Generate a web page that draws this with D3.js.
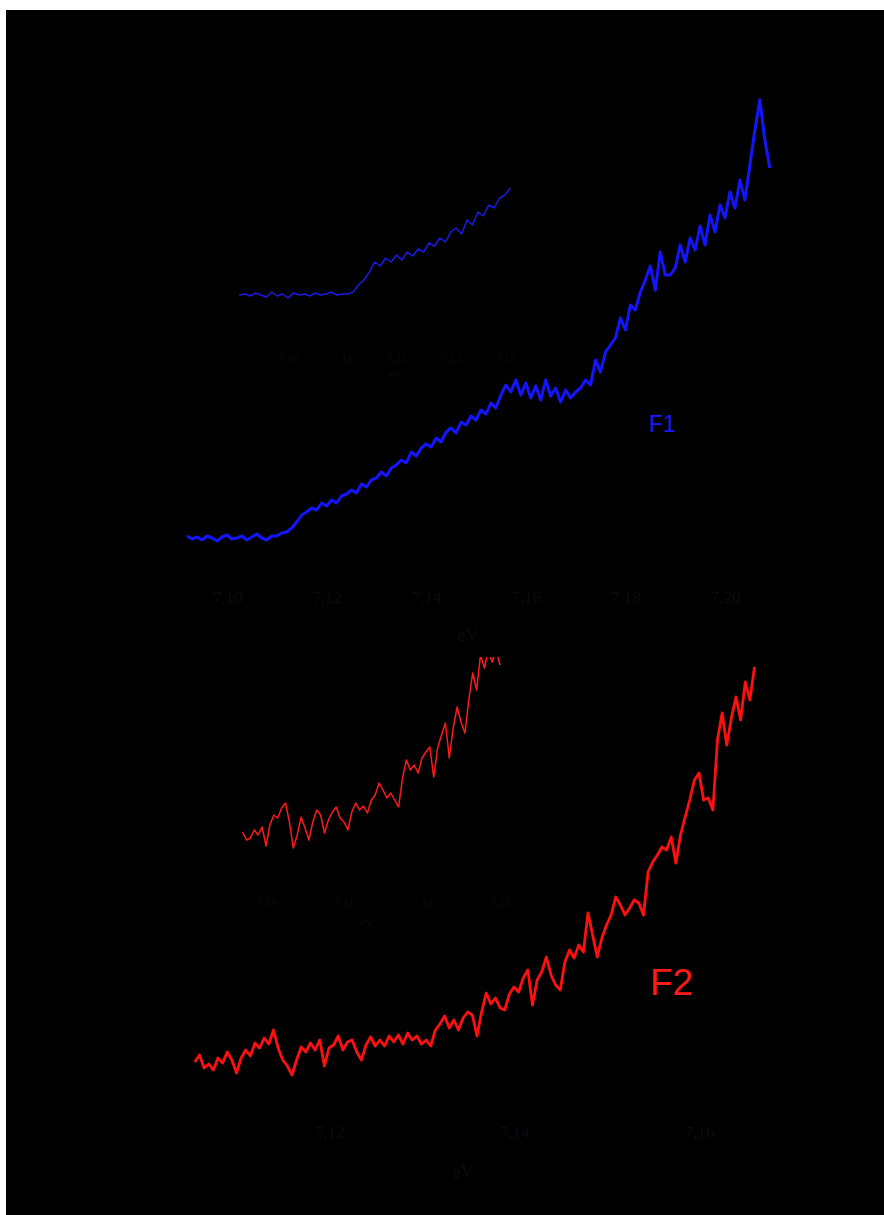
<!DOCTYPE html>
<html>
<head>
<meta charset="utf-8">
<script src="https://cdn.jsdelivr.net/npm/d3@7"></script>
<style>
html,body{margin:0;padding:0;background:#fff;}
svg{display:block;}
</style>
</head>
<body>
<script>
// ---------------- DATA ----------------
// F1 (blue) main spectrum: energies start at 7.092, step 0.001
const f1Start = 7.092, f1Step = 0.001;
const f1Values = [9,6,8,5,9,7,4,8,10,6,7,9,5,8,11,7,5,9,
  9,12,13,17,23,30,33,37,35,42,
  39,45,42,49,51,55,52,61,58,65,
  67,73,69,77,80,85,82,93,89,97,
  101,98,107,103,113,117,112,123,120,129,
  125,135,131,142,137,150,160,153,165,150,
  162,147,159,145,165,149,157,143,155,147,
  153,157,165,160,185,173,193,200,207,227,
  215,240,235,253,265,279,255,293,270,270,
  277,300,283,307,295,319,300,330,313,340,
  327,353,337,365,345,380,415,445,405,377];
const f1Ticks = [7.10, 7.12, 7.14, 7.16, 7.18, 7.20];
const f1TickLabels = ["7,10", "7,12", "7,14", "7,16", "7,18", "7,20"];

// F1 inset: energies start at 7.091, step 0.001
const f1InsetStart = 7.091, f1InsetStep = 0.001;
const f1InsetValues = [5,6,4,7,5,3,8,4,6,2,7,5,6,4,7,5,6,8,5,6,
  6,8,15,20,28,38,34,42,38,45,40,48,44,51,48,57,54,62,58,68,
  72,66,80,75,88,84,95,92,102,105,112];
const f1InsetTicks = [7.10, 7.11, 7.12, 7.13, 7.14];
const f1InsetTickLabels = ["7,10", "7,11", "7,12", "7,13", "7,14"];

// F2 (red) main spectrum: energies start at 7.1055, step 0.0005
const f2Start = 7.1055, f2Step = 0.0005;
const f2Values = [18,25,12,16,10,22,17,28,20,7,
  22,30,24,37,32,42,36,50,32,20,
  14,5,20,33,28,37,30,40,14,32,
  35,44,30,38,40,28,20,35,43,34,
  40,34,44,38,45,36,47,40,44,36,
  40,34,50,56,64,52,60,50,62,68,
  65,44,68,87,76,82,72,70,86,93,
  88,102,110,75,100,108,123,105,95,90,
  118,130,122,135,128,167,145,123,142,155,
  165,183,175,165,172,180,177,165,208,218,
  225,233,230,243,217,245,263,280,300,307,
  280,282,270,340,367,335,362,383,360,398,
  380,413];
const f2Ticks = [7.12, 7.14, 7.16];
const f2TickLabels = ["7,12", "7,14", "7,16"];

// F2 inset: energies start at 7.097, step 0.0005
const f2InsetStart = 7.097, f2InsetStep = 0.0005;
const f2InsetValues = [28,20,22,30,25,33,14,35,45,42,
  52,57,38,12,25,43,32,20,38,50,
  45,27,40,48,53,42,38,30,48,57,
  50,54,47,60,65,77,70,62,67,60,
  53,82,100,90,95,87,102,108,113,83,
  112,125,137,102,132,153,138,127,160,187,
  170,205,192,210,198,210,195];
const f2InsetTicks = [7.10, 7.11, 7.12, 7.13];
const f2InsetTickLabels = ["7,10", "7,11", "7,12", "7,13"];

const axisTitle = "eV";
const labelF1 = "F1", labelF2 = "F2";

// ---------------- DRAW ----------------
const W = 884, H = 1215;
const svg = d3.select("body").append("svg").attr("width", W).attr("height", H);
svg.append("rect").attr("x", 0).attr("y", 0).attr("width", W).attr("height", H).attr("fill", "#fff");
svg.append("rect").attr("x", 6).attr("y", 10).attr("width", W - 6).attr("height", H - 10).attr("fill", "#000");

const textCol = "#0c0c0c";

function series(start, step, vals) {
  return vals.map((v, i) => ({e: start + step * i, v: v}));
}

function panel(opts) {
  const x = d3.scaleLinear().domain(opts.xDomain).range(opts.xRange);
  const y = d3.scaleLinear().domain(opts.yDomain).range(opts.yRange);
  const g = svg.append("g");
  if (opts.clip) {
    const id = "clip" + Math.round(opts.xRange[0]) + Math.round(opts.yRange[1]);
    svg.append("clipPath").attr("id", id).append("rect")
      .attr("x", opts.clip[0]).attr("y", opts.clip[1]).attr("width", opts.clip[2]).attr("height", opts.clip[3]);
    g.attr("clip-path", "url(#" + id + ")");
  }
  const line = d3.line().x(d => x(d.e)).y(d => y(d.v));
  g.append("path").datum(opts.data).attr("d", line)
    .attr("fill", "none").attr("stroke", opts.color).attr("stroke-width", opts.sw)
    .attr("stroke-linejoin", "round");
  const ax = d3.axisBottom(x).tickValues(opts.ticks)
    .tickFormat((d, i) => opts.tickLabels[i]).tickSize(0).tickPadding(0);
  const ag = svg.append("g").attr("transform", `translate(0,${opts.axisY})`).call(ax);
  ag.select(".domain").attr("stroke", "#000");
  ag.selectAll("text").attr("fill", textCol).attr("font-family", "Liberation Serif, Times New Roman, serif")
    .attr("font-size", opts.fs);
  svg.append("text").attr("x", opts.titleX).attr("y", opts.titleY).attr("text-anchor", "middle")
    .attr("fill", textCol).attr("font-family", "Liberation Serif, Times New Roman, serif")
    .attr("font-size", opts.tfs).text(axisTitle);
}

panel({data: series(f1Start, f1Step, f1Values), xDomain: [7.10, 7.20], xRange: [227, 725],
  yDomain: [0, 450], yRange: [545, 95], color: "#1414ff", sw: 3,
  ticks: f1Ticks, tickLabels: f1TickLabels, axisY: 591, fs: 17, titleX: 468, titleY: 641, tfs: 18});

panel({data: series(f1InsetStart, f1InsetStep, f1InsetValues), xDomain: [7.10, 7.14], xRange: [288, 505],
  yDomain: [0, 120], yRange: [300, 180], color: "#1a1ae6", sw: 1.5,
  ticks: f1InsetTicks, tickLabels: f1InsetTickLabels, axisY: 354, fs: 11, titleX: 395, titleY: 378, tfs: 11});

panel({data: series(f2Start, f2Step, f2Values), xDomain: [7.12, 7.16], xRange: [329, 699],
  yDomain: [0, 420], yRange: [1080, 660], color: "#ff1010", sw: 2.8,
  ticks: f2Ticks, tickLabels: f2TickLabels, axisY: 1126, fs: 17, titleX: 463, titleY: 1178, tfs: 18});

panel({data: series(f2InsetStart, f2InsetStep, f2InsetValues), xDomain: [7.10, 7.13], xRange: [266, 500],
  yDomain: [0, 200], yRange: [860, 660], color: "#ff1a1a", sw: 1.5,
  ticks: f2InsetTicks, tickLabels: f2InsetTickLabels, axisY: 898, fs: 11, titleX: 367, titleY: 926, tfs: 11,
  clip: [230, 657, 290, 220]});

svg.append("text").attr("x", 649).attr("y", 432).attr("fill", "#1a1aff")
  .attr("font-family", "Liberation Sans, Arial, sans-serif").attr("font-size", 23).text(labelF1);
svg.append("text").attr("x", 650).attr("y", 995).attr("fill", "#ff1a1a")
  .attr("font-family", "Liberation Sans, Arial, sans-serif").attr("font-size", 37).text(labelF2);
</script>
</body>
</html>
